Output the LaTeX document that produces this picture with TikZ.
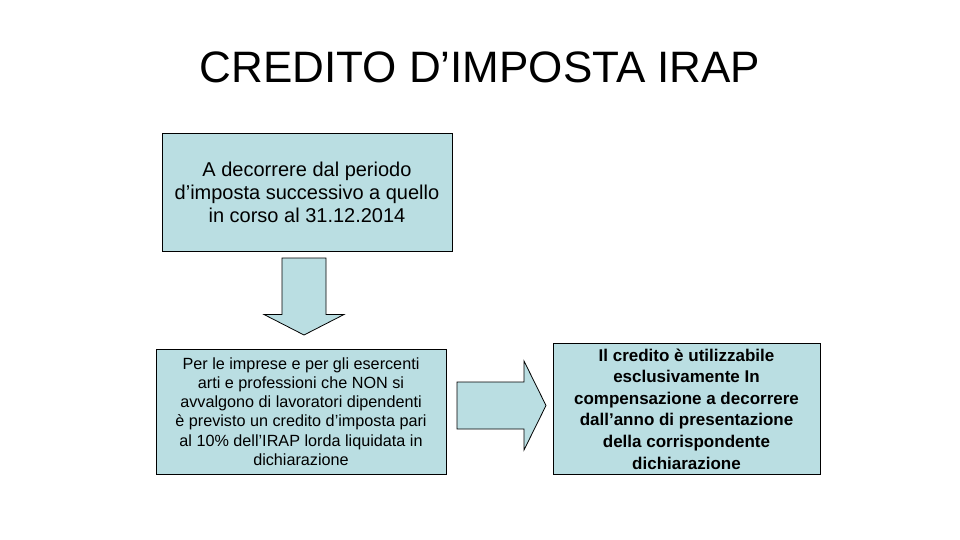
\documentclass[tikz,border=0pt]{standalone}
\usepackage{fontspec}
\setmainfont{Liberation Sans}
\definecolor{boxfill}{RGB}{186,222,226}
\newcommand{\sq}{\char"27\relax}
\begin{document}
\begin{tikzpicture}[x=1pt,y=-1pt,
  box/.style={draw=black,line width=0.9pt,fill=boxfill,inner sep=0pt,align=center},
  blockarrow/.style={draw=black,line width=0.8pt,fill=boxfill,line join=miter}]
\useasboundingbox (0,0) rectangle (960,540);
\node[font=\fontsize{44}{50}\selectfont] (title) at (480,67) {CREDITO D’IMPOSTA IRAP};
\node[box,minimum width=290pt,minimum height=118pt,font=\fontsize{20}{23}\selectfont] (b1) at (307,192)
  {A decorrere dal periodo\\ d’imposta successivo a quello\\ in corso al 31.12.2014};
\node[box,minimum width=290pt,minimum height=125pt,font=\fontsize{16.2}{19.2}\selectfont] (b2) at (301,411.5)
  {Per le imprese e per gli esercenti\\ arti e professioni che NON si\\ avvalgono di lavoratori dipendenti\\ è previsto un credito d\sq imposta pari\\ al 10\% dell\sq IRAP lorda liquidata in\\ dichiarazione};
\node[box,minimum width=267pt,minimum height=131pt,font=\fontsize{17}{21.6}\selectfont\bfseries] (b3) at (686.5,409)
  {Il credito è utilizzabile\\ esclusivamente In\\ compensazione a decorrere\\ dall’anno di presentazione\\ della corrispondente\\ dichiarazione};
% down block arrow
\path[blockarrow] (282,258) -- (326,258) -- (326,314.5) -- (344,314.5) -- (304,335)
  -- (264,314.5) -- (282,314.5) -- cycle;
% right block arrow
\path[blockarrow] (457,382) -- (524,382) -- (524,361) -- (546,405.5) -- (524,450)
  -- (524,429) -- (457,429) -- cycle;
\end{tikzpicture}
\end{document}
